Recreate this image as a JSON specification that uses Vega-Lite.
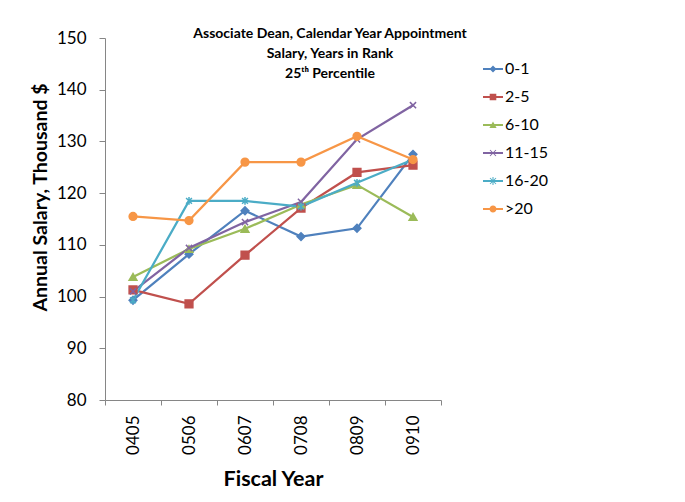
{
  "$schema": "https://vega.github.io/schema/vega-lite/v6.json",
  "width": 336,
  "height": 362,
  "autosize": "none",
  "padding": {"left": 105, "top": 38, "right": 244, "bottom": 102},
  "background": "white",
  "title": {
    "text": ["Associate Dean, Calendar Year Appointment", "Salary, Years in Rank", "25ᵗʰ Percentile"],
    "font": "Lato",
    "fontSize": 14,
    "fontWeight": "bold",
    "color": "black",
    "lineHeight": 20,
    "anchor": "middle",
    "frame": "group",
    "orient": "top",
    "dx": 57,
    "offset": -52
  },
  "data": {
    "values": [
      {"year": "0405", "series": "0-1", "value": 99.3},
      {"year": "0506", "series": "0-1", "value": 108.2},
      {"year": "0607", "series": "0-1", "value": 116.6},
      {"year": "0708", "series": "0-1", "value": 111.6},
      {"year": "0809", "series": "0-1", "value": 113.2},
      {"year": "0910", "series": "0-1", "value": 127.5},
      {"year": "0405", "series": "2-5", "value": 101.3},
      {"year": "0506", "series": "2-5", "value": 98.6},
      {"year": "0607", "series": "2-5", "value": 108.0},
      {"year": "0708", "series": "2-5", "value": 117.1},
      {"year": "0809", "series": "2-5", "value": 124.0},
      {"year": "0910", "series": "2-5", "value": 125.4},
      {"year": "0405", "series": "6-10", "value": 103.8},
      {"year": "0506", "series": "6-10", "value": 109.2},
      {"year": "0607", "series": "6-10", "value": 113.1},
      {"year": "0708", "series": "6-10", "value": 117.8},
      {"year": "0809", "series": "6-10", "value": 121.6},
      {"year": "0910", "series": "6-10", "value": 115.4},
      {"year": "0405", "series": "11-15", "value": 101.0},
      {"year": "0506", "series": "11-15", "value": 109.4},
      {"year": "0607", "series": "11-15", "value": 114.4},
      {"year": "0708", "series": "11-15", "value": 118.3},
      {"year": "0809", "series": "11-15", "value": 130.4},
      {"year": "0910", "series": "11-15", "value": 137.0},
      {"year": "0405", "series": "16-20", "value": 99.3},
      {"year": "0506", "series": "16-20", "value": 118.5},
      {"year": "0607", "series": "16-20", "value": 118.5},
      {"year": "0708", "series": "16-20", "value": 117.4},
      {"year": "0809", "series": "16-20", "value": 122.0},
      {"year": "0910", "series": "16-20", "value": 126.5},
      {"year": "0405", "series": ">20", "value": 115.5},
      {"year": "0506", "series": ">20", "value": 114.7},
      {"year": "0607", "series": ">20", "value": 126.0},
      {"year": "0708", "series": ">20", "value": 126.0},
      {"year": "0809", "series": ">20", "value": 131.0},
      {"year": "0910", "series": ">20", "value": 126.5}
    ]
  },
  "encoding": {
    "x": {
      "field": "year",
      "type": "ordinal",
      "bandPosition": 0.5,
      "scale": {"type": "band", "paddingInner": 0, "paddingOuter": 0},
      "axis": {
        "title": "Fiscal Year",
        "labelAngle": 270,
        "labelAlign": "right",
        "labelBaseline": "middle",
        "labelFont": "Lato",
        "labelFontSize": 17,
        "labelColor": "black",
        "labelPadding": 10,
        "tickBand": "extent",
        "tickSize": 5,
        "tickColor": "#868686",
        "domainColor": "#868686",
        "titleFont": "Lato",
        "titleFontSize": 21.5,
        "titleFontWeight": "bold",
        "titleColor": "black",
        "titlePadding": 14
      }
    },
    "y": {
      "field": "value",
      "type": "quantitative",
      "scale": {"domain": [80, 150], "nice": false, "zero": false},
      "axis": {
        "title": "Annual Salary, Thousand $",
        "values": [80, 90, 100, 110, 120, 130, 140, 150],
        "grid": false,
        "labelFont": "Lato",
        "labelFontSize": 17,
        "labelColor": "black",
        "labelPadding": 13,
        "tickSize": 6,
        "tickColor": "#868686",
        "domainColor": "#868686",
        "titleFont": "Lato",
        "titleFontSize": 19.5,
        "titleFontWeight": "bold",
        "titleColor": "black",
        "titlePadding": 6,
        "titleY": 159
      }
    }
  },
  "resolve": {"scale": {"color": "independent", "shape": "independent"}},
  "layer": [
    {
      "mark": {"type": "line", "strokeWidth": 2.25},
      "encoding": {
        "color": {
          "field": "series",
          "type": "nominal",
          "scale": {
            "domain": ["0-1", "2-5", "6-10", "11-15", "16-20", ">20"],
            "range": ["#4F81BD", "#C0504D", "#9BBB59", "#8064A2", "#4BACC6", "#F79646"]
          },
          "legend": null
        }
      }
    },
    {
      "mark": {"type": "point", "filled": true, "size": 60, "strokeWidth": 1.5, "opacity": 1},
      "encoding": {
        "color": {
          "field": "series",
          "type": "nominal",
          "scale": {
            "domain": ["0-1", "2-5", "6-10", "11-15", "16-20", ">20"],
            "range": ["#4F81BD", "#C0504D", "#9BBB59", "#8064A2", "#4BACC6", "#F79646"]
          },
          "legend": null
        },
        "shape": {
          "field": "series",
          "type": "nominal",
          "scale": {
            "domain": ["0-1", "2-5", "6-10", "11-15", "16-20", ">20"],
            "range": ["diamond", "square", "triangle-up", "M-0.8,-0.8L0.8,0.8M-0.8,0.8L0.8,-0.8", "M-0.75,-0.75L0.75,0.75M-0.75,0.75L0.75,-0.75M0,-1V1", "circle"]
          },
          "legend": null
        },
        "stroke": {
          "field": "series",
          "type": "nominal",
          "scale": {
            "domain": ["0-1", "2-5", "6-10", "11-15", "16-20", ">20"],
            "range": ["#4F81BD", "#C0504D", "#9BBB59", "#8064A2", "#4BACC6", "#F79646"]
          },
          "legend": null
        }
      }
    },
    {
      "transform": [{"filter": "false"}],
      "mark": {"type": "point", "filled": true, "size": 400, "strokeWidth": 0},
      "encoding": {
        "color": {
          "field": "series",
          "type": "nominal",
          "scale": {
            "domain": ["0-1", "2-5", "6-10", "11-15", "16-20", ">20"],
            "range": ["#4F81BD", "#C0504D", "#9BBB59", "#8064A2", "#4BACC6", "#F79646"]
          },
          "legend": {
            "orient": "none",
            "legendX": 378,
            "legendY": 21,
            "title": null,
            "padding": 0,
            "labelFont": "Lato",
            "labelFontSize": 16,
            "labelColor": "black",
            "labelOffset": 2,
            "symbolSize": 400,
            "rowPadding": 10,
            "symbolStrokeWidth": 0,
            "symbolOpacity": 1
          }
        },
        "shape": {
          "field": "series",
          "type": "nominal",
          "scale": {
            "domain": ["0-1", "2-5", "6-10", "11-15", "16-20", ">20"],
            "range": [
              "M-1,-0.1H1V0.1H-1ZM-0.35,0L0,-0.35L0.35,0L0,0.35Z",
              "M-1,-0.1H1V0.1H-1ZM-0.33,-0.33H0.33V0.33H-0.33Z",
              "M-1,-0.1H1V0.1H-1ZM-0.36,0.3L0,-0.36L0.36,0.3Z",
              "M-1,-0.1H1V0.1H-1ZM-0.265,-0.335L0.335,0.265L0.265,0.335L-0.335,-0.265ZM-0.335,0.265L0.265,-0.335L0.335,-0.265L-0.265,0.335Z",
              "M-1,-0.1H1V0.1H-1ZM-0.265,-0.335L0.335,0.265L0.265,0.335L-0.335,-0.265ZM-0.335,0.265L0.265,-0.335L0.335,-0.265L-0.265,0.335ZM-0.05,-0.4H0.05V0.4H-0.05Z",
              "M-1,-0.1H1V0.1H-1ZM-0.35,0A0.35,0.35,0,1,1,0.35,0A0.35,0.35,0,1,1,-0.35,0Z"
            ]
          },
          "legend": {
            "orient": "none",
            "legendX": 378,
            "legendY": 21,
            "title": null,
            "padding": 0,
            "labelFont": "Lato",
            "labelFontSize": 16,
            "labelColor": "black",
            "labelOffset": 2,
            "symbolSize": 400,
            "rowPadding": 10,
            "symbolStrokeWidth": 0,
            "symbolOpacity": 1
          }
        }
      }
    }
  ],
  "config": {
    "view": {"stroke": null}
  }
}
